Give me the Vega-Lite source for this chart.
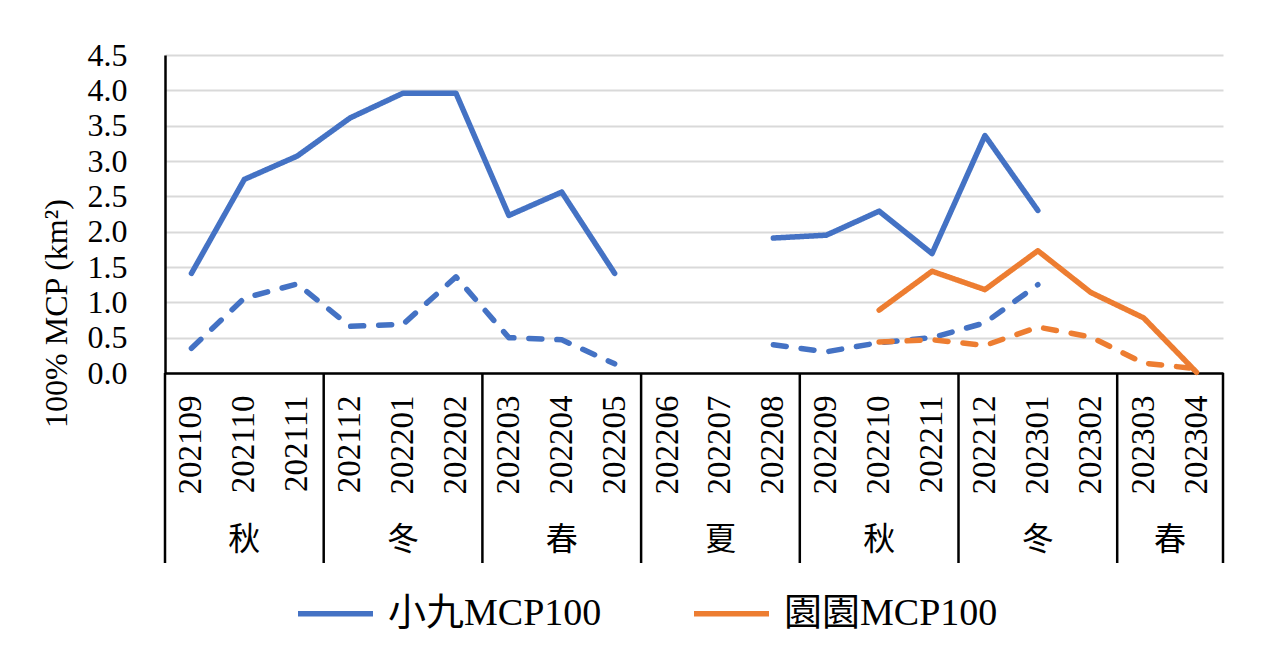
{
  "$schema": "https://vega.github.io/schema/vega-lite/v6.json",
  "background": "white",
  "padding": {"left": 40, "top": 39, "right": 5, "bottom": 5},
  "bounds": "flush",
  "spacing": 0,
  "config": {
    "font": "Liberation Serif, Noto Sans CJK TC",
    "view": {"stroke": null},
    "concat": {"spacing": 0}
  },
  "resolve": {"scale": {"x": "independent"}},
  "vconcat": [
    {
      "width": 1058,
      "height": 318,
      "data": {
        "values": [
          {"month": "202109", "series": "小九MCP100", "area": 1.41},
          {"month": "202110", "series": "小九MCP100", "area": 2.74},
          {"month": "202111", "series": "小九MCP100", "area": 3.07},
          {"month": "202112", "series": "小九MCP100", "area": 3.61},
          {"month": "202201", "series": "小九MCP100", "area": 3.96},
          {"month": "202202", "series": "小九MCP100", "area": 3.96},
          {"month": "202203", "series": "小九MCP100", "area": 2.23},
          {"month": "202204", "series": "小九MCP100", "area": 2.56},
          {"month": "202205", "series": "小九MCP100", "area": 1.41},
          {"month": "202206", "series": "小九MCP100", "area": null},
          {"month": "202207", "series": "小九MCP100", "area": null},
          {"month": "202208", "series": "小九MCP100", "area": 1.91},
          {"month": "202209", "series": "小九MCP100", "area": 1.95},
          {"month": "202210", "series": "小九MCP100", "area": 2.29},
          {"month": "202211", "series": "小九MCP100", "area": 1.69},
          {"month": "202212", "series": "小九MCP100", "area": 3.36},
          {"month": "202301", "series": "小九MCP100", "area": 2.30},
          {"month": "202109", "series": "小九MCP50", "area": 0.35},
          {"month": "202110", "series": "小九MCP50", "area": 1.06},
          {"month": "202111", "series": "小九MCP50", "area": 1.26},
          {"month": "202112", "series": "小九MCP50", "area": 0.66},
          {"month": "202201", "series": "小九MCP50", "area": 0.69},
          {"month": "202202", "series": "小九MCP50", "area": 1.36},
          {"month": "202203", "series": "小九MCP50", "area": 0.50},
          {"month": "202204", "series": "小九MCP50", "area": 0.47},
          {"month": "202205", "series": "小九MCP50", "area": 0.13},
          {"month": "202206", "series": "小九MCP50", "area": null},
          {"month": "202207", "series": "小九MCP50", "area": null},
          {"month": "202208", "series": "小九MCP50", "area": 0.40},
          {"month": "202209", "series": "小九MCP50", "area": 0.30},
          {"month": "202210", "series": "小九MCP50", "area": 0.43},
          {"month": "202211", "series": "小九MCP50", "area": 0.50},
          {"month": "202212", "series": "小九MCP50", "area": 0.71},
          {"month": "202301", "series": "小九MCP50", "area": 1.25},
          {"month": "202210", "series": "園園MCP100", "area": 0.89},
          {"month": "202211", "series": "園園MCP100", "area": 1.44},
          {"month": "202212", "series": "園園MCP100", "area": 1.18},
          {"month": "202301", "series": "園園MCP100", "area": 1.73},
          {"month": "202302", "series": "園園MCP100", "area": 1.14},
          {"month": "202303", "series": "園園MCP100", "area": 0.78},
          {"month": "202304", "series": "園園MCP100", "area": 0.01},
          {"month": "202210", "series": "園園MCP50", "area": 0.44},
          {"month": "202211", "series": "園園MCP50", "area": 0.47},
          {"month": "202212", "series": "園園MCP50", "area": 0.39},
          {"month": "202301", "series": "園園MCP50", "area": 0.65},
          {"month": "202302", "series": "園園MCP50", "area": 0.51},
          {"month": "202303", "series": "園園MCP50", "area": 0.14},
          {"month": "202304", "series": "園園MCP50", "area": 0.06}
        ]
      },
      "mark": {"type": "line", "strokeWidth": 5.5, "strokeCap": "round", "strokeJoin": "round", "invalid": "break-paths-filter-domains"},
      "encoding": {
        "x": {
          "field": "month", "type": "ordinal", "bandPosition": 0.5,
          "scale": {"type": "band", "paddingInner": 0, "paddingOuter": 0,
            "domain": ["202109","202110","202111","202112","202201","202202","202203","202204","202205","202206","202207","202208","202209","202210","202211","202212","202301","202302","202303","202304"]},
          "axis": {"title": null, "labelAngle": 270, "labelFontSize": 33, "labelPadding": 22, "labelColor": "black", "ticks": false, "grid": false, "domainColor": "black", "domainWidth": 2.5}
        },
        "y": {
          "field": "area", "type": "quantitative",
          "scale": {"domain": [0, 4.5], "nice": false, "zero": true},
          "axis": {
            "values": [0, 0.5, 1, 1.5, 2, 2.5, 3, 3.5, 4, 4.5], "format": ".1f",
            "title": "100% MCP (km²)", "titleFontSize": 32, "titleFontWeight": "normal", "titleColor": "black", "titleY": 258, "titlePadding": 14,
            "labelFontSize": 32, "labelColor": "black", "labelPadding": 38,
            "ticks": false, "domainColor": "black", "domainWidth": 2.5,
            "grid": true, "gridColor": "#D9D9D9", "gridWidth": 2
          }
        },
        "color": {
          "field": "series", "type": "nominal",
          "scale": {"domain": ["小九MCP100", "園園MCP100", "小九MCP50", "園園MCP50"], "range": ["#4472C4", "#ED7D31", "#4472C4", "#ED7D31"]},
          "legend": {
            "values": ["小九MCP100", "園園MCP100"], "title": null, "orient": "none", "legendX": 130, "legendY": 518, "direction": "horizontal",
            "symbolType": "stroke", "symbolSize": 5625, "symbolStrokeWidth": 5.5,
            "labelFontSize": 38, "labelColor": "black", "labelOffset": 12, "labelLimit": 400,
            "columnPadding": 81
          }
        },
        "strokeDash": {
          "field": "series", "type": "nominal",
          "scale": {"domain": ["小九MCP100", "園園MCP100", "小九MCP50", "園園MCP50"], "range": [[1, 0], [1, 0], [13, 15], [13, 15]]},
          "legend": null
        }
      }
    },
    {
      "width": 1058,
      "height": 190,
      "layer": [
        {
          "data": {"values": [
            {"season": "秋", "anchor": "202110"},
            {"season": "冬", "anchor": "202201"},
            {"season": "春", "anchor": "202204"},
            {"season": "夏", "anchor": "202207"},
            {"season": "秋", "anchor": "202210"},
            {"season": "冬", "anchor": "202301"}
          ]},
          "mark": {"type": "text", "fontSize": 32, "color": "black"},
          "encoding": {
            "x": {"field": "anchor", "type": "ordinal", "bandPosition": 0.5,
              "scale": {"type": "band", "paddingInner": 0, "paddingOuter": 0,
                "domain": ["202109","202110","202111","202112","202201","202202","202203","202204","202205","202206","202207","202208","202209","202210","202211","202212","202301","202302","202303","202304"]},
              "axis": null},
            "y": {"datum": "季節", "type": "ordinal", "scale": {"type": "point", "domain": ["季節"], "padding": 0.5, "align": 0.88}, "axis": null},
            "text": {"field": "season"}
          }
        },
        {
          "data": {"values": [{"season": "春", "anchor": "202304"}]},
          "mark": {"type": "text", "fontSize": 32, "color": "black"},
          "encoding": {
            "x": {"field": "anchor", "type": "ordinal", "bandPosition": 0, "axis": null},
            "y": {"datum": "季節", "type": "ordinal", "axis": null},
            "text": {"field": "season"}
          }
        },
        {
          "data": {"values": [
            {"month": "202109"}, {"month": "202112"}, {"month": "202203"}, {"month": "202206"},
            {"month": "202209"}, {"month": "202212"}, {"month": "202303"}
          ]},
          "mark": {"type": "rule", "strokeWidth": 2.5, "color": "black"},
          "encoding": {"x": {"field": "month", "type": "ordinal", "bandPosition": 0, "axis": null}}
        },
        {
          "data": {"values": [{"month": "202304"}]},
          "mark": {"type": "rule", "strokeWidth": 2.5, "color": "black"},
          "encoding": {"x": {"field": "month", "type": "ordinal", "bandPosition": 1, "axis": null}}
        }
      ]
    }
  ]
}
